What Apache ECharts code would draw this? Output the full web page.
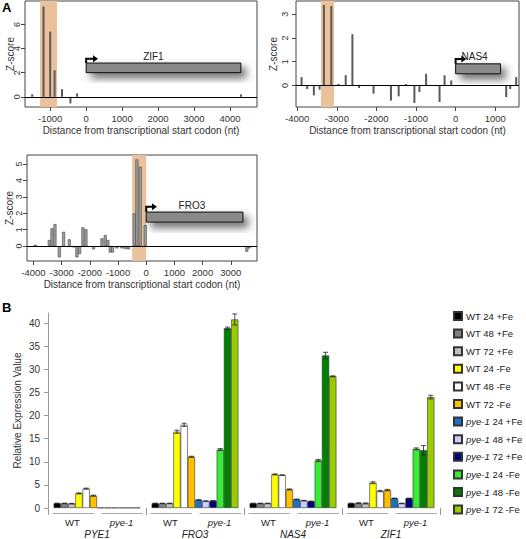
<!DOCTYPE html>
<html><head><meta charset="utf-8">
<script src="https://cdn.jsdelivr.net/npm/echarts@6/dist/echarts.min.js"></script>
<style>html,body{margin:0;padding:0;background:#fff}#c{width:526px;height:539px}</style>
</head><body><div id="c"></div>
<script>
// ---------- Panel A data ----------
const zifPos = [-1500, -1185, -1000, -877, -672, -437, -252, 4305];
const zifZ   = [0.2, 7.5, 5.4, 2.2, 0.63, -0.55, 0.28, 0.2];
const zifShade = [-1280, -810];
const zifGene = [0, 4300, 2.0, 2.8, 3.15, 330];   // start, end, boxLow, boxHigh, arrowLevel, arrowEnd
const zifLabel = ['ZIF1', 1870, 3.35];

const nasPos = [-3890, -3748, -3579, -3435, -3325, -3139, -2961, -2775, -2606, -2437, -2073, -1633, -1438, -1252, -1041, -914, -745, -406, -279, -110, 1277, 1378, 1530];
const nasZ   = [0.35, -0.15, -0.42, -0.18, 3.39, 3.35, 0.07, 0.43, 2.16, -0.11, -0.35, -0.64, -0.46, 0.06, -0.74, -0.28, 0.49, -0.70, 0.43, 0.21, -0.49, -0.15, 0.35];
const nasShade = [-3400, -3070];
const nasGene = [0, 1134, 0.49, 0.91, 1.11, 270];
const nasLabel = ['NAS4', 480, 1.22];

const froPos = [-3936, -3440, -3345, -3238, -3085, -2931, -2730, -2577, -2459, -2364, -2246, -2139, -1868, -1572, -1454, -1359, -1277, -1194, -1040, -863, -745, -627, -426, -331, -213, -35, 3570, 3664];
const froZ   = [0.08, 0.37, 1.08, 1.34, -0.69, 0.87, 0.41, -0.08, -0.69, -0.49, 1.14, 1.02, -0.2, 0.47, 0.67, 0.37, -0.39, -0.39, -0.14, -0.14, -0.18, -0.2, 1.99, 5.28, 4.84, 1.28, -0.35, -0.14];
const froShade = [-500, 0];
const froGene = [0, 3430, 1.46, 2.07, 2.4, 380];
const froLabel = ['FRO3', 1620, 2.5];

const zifXTicks = [-1000, 0, 1000, 2000, 3000, 4000];
const zifYTicks = [0, 2, 4, 6];
const nasXTicks = [-4000, -3000, -2000, -1000, 0, 1000];
const nasYTicks = [0, 1, 2, 3];
const froXTicks = [-4000, -3000, -2000, -1000, 0, 1000, 2000, 3000];
const froYTicks = [0, 1, 2, 3, 4, 5];

// ---------- Panel B data ----------
const genes = ['PYE1', 'FRO3', 'NAS4', 'ZIF1'];
const subgroups = ['WT', 'pye-1', 'WT', 'pye-1', 'WT', 'pye-1', 'WT', 'pye-1'];
const seriesNames = ['WT 24 +Fe', 'WT 48 +Fe', 'WT 72 +Fe', 'WT 24 -Fe', 'WT 48 -Fe', 'WT 72 -Fe',
  'pye-1 24 +Fe', 'pye-1 48 +Fe', 'pye-1 72 +Fe', 'pye-1 24 -Fe', 'pye-1 48 -Fe', 'pye-1 72 -Fe'];
const wt24p  = [1.0, 1.0, 1.0, 1.0];
const wt48p  = [1.0, 1.0, 1.0, 1.05];
const wt72p  = [0.95, 1.0, 1.0, 1.0];
const wt24m  = [3.17, 16.5, 7.27, 5.47];
const wt48m  = [4.2, 18.0, 7.12, 3.67];
const wt72m  = [2.67, 11.1, 4.03, 3.88];
const pye24p = [0.05, 1.75, 1.88, 2.1];
const pye48p = [0.05, 1.5, 1.6, 1.0];
const pye72p = [0.05, 1.55, 1.45, 2.1];
const pye24m = [0.05, 12.66, 10.29, 12.8];
const pye48m = [0.05, 38.9, 33.0, 12.5];
const pye72m = [0.05, 40.8, 28.5, 24.0];
const errWt24p  = [0.05, 0.05, 0.05, 0.05];
const errWt48p  = [0.05, 0.05, 0.05, 0.1];
const errWt72p  = [0.05, 0.05, 0.05, 0.1];
const errWt24m  = [0.1, 0.35, 0.1, 0.2];
const errWt48m  = [0.1, 0.35, 0.05, 0.15];
const errWt72m  = [0.1, 0.1, 0.1, 0.15];
const errPye24p = [0, 0.05, 0.05, 0.05];
const errPye48p = [0, 0.05, 0.05, 0.05];
const errPye72p = [0, 0.05, 0.05, 0.05];
const errPye24m = [0, 0.2, 0.2, 0.2];
const errPye48m = [0, 0.25, 0.7, 1.0];
const errPye72m = [0, 1.2, 0.1, 0.4];
const yTicksB = [0, 5, 10, 15, 20, 25, 30, 35, 40];

const barValues = [wt24p, wt48p, wt72p, wt24m, wt48m, wt72m, pye24p, pye48p, pye72p, pye24m, pye48m, pye72m];
const barErrors = [errWt24p, errWt48p, errWt72p, errWt24m, errWt48m, errWt72m, errPye24p, errPye48p, errPye72p, errPye24m, errPye48m, errPye72m];
const colors = ['#000000', '#808080', '#c0c0c0', '#ffff00', '#ffffff', '#ffc000',
  '#1f6fc5', '#ccccff', '#000080', '#33ee33', '#008000', '#99cc00'];

const FONT = 'Liberation Sans, Arial, Helvetica, sans-serif';
const chart = echarts.init(document.getElementById('c'), null, {renderer: 'svg', width: 526, height: 539});
const plain = v => String(v);

function aX(grid, min, max, ticks) {
  return {type: 'value', gridIndex: grid, min: min, max: max, position: 'bottom',
    axisLine: {show: false, onZero: false}, splitLine: {show: false},
    axisTick: {show: true, length: 4, customValues: ticks, lineStyle: {color: '#444'}},
    axisLabel: {customValues: ticks, fontSize: 9.5, color: '#333', margin: 6, fontFamily: FONT, formatter: plain},
    name: 'Distance from transcriptional start codon (nt)', nameLocation: 'middle', nameGap: 18, nameMoveOverlap: false,
    nameTextStyle: {fontSize: 10, color: '#333', fontFamily: FONT}};
}
function aY(grid, min, max, ticks, lm, ng) {
  return {type: 'value', gridIndex: grid, min: min, max: max, position: 'left',
    axisLine: {show: false, onZero: false}, splitLine: {show: false},
    axisTick: {show: true, length: 4, customValues: ticks, lineStyle: {color: '#444'}},
    axisLabel: {customValues: ticks, rotate: 90, fontSize: 9, margin: lm, color: '#333', fontFamily: FONT, formatter: plain},
    name: 'Z-score', nameLocation: 'middle', nameGap: ng, nameMoveOverlap: false,
    nameTextStyle: {fontSize: 10, color: '#333', fontFamily: FONT}};
}
function geneRender(label) {
  return function (params, api) {
    const s = api.value(0), e = api.value(1), lo = api.value(2), hi = api.value(3), lev = api.value(4), tip = api.value(5);
    const p1 = api.coord([s, hi]), p2 = api.coord([e, lo]);
    const pa = api.coord([s, lev]), pt = api.coord([tip, lev]);
    const pl = api.coord([label[1], label[2]]);
    return {type: 'group', children: [
      {type: 'rect', shape: {x: p1[0], y: p1[1], width: p2[0] - p1[0], height: p2[1] - p1[1]},
        style: {fill: '#8a8a8a', stroke: '#111', lineWidth: 1, shadowBlur: 9, shadowOffsetX: 5, shadowOffsetY: 5, shadowColor: 'rgba(0,0,0,0.6)'}},
      {type: 'polyline', shape: {points: [[p1[0], p1[1]], [pa[0], pa[1]], [pt[0] - 4, pt[1]]]},
        style: {stroke: '#000', lineWidth: 2, fill: null}},
      {type: 'polygon', shape: {points: [[pt[0], pt[1]], [pt[0] - 5, pt[1] - 3.5], [pt[0] - 5, pt[1] + 3.5]]},
        style: {fill: '#000'}},
      {type: 'text', style: {text: label[0], x: pl[0], y: pl[1], align: 'center', verticalAlign: 'middle',
        fontSize: 10, fill: '#222', fontFamily: FONT}}
    ]};
  };
}
function shadeSeries(idx, shade) {
  return {type: 'line', xAxisIndex: idx, yAxisIndex: idx, data: [], z: 1, silent: true,
    markArea: {silent: true, itemStyle: {color: '#ebc19c'}, data: [[{xAxis: shade[0]}, {xAxis: shade[1]}]]}};
}
function stemSeries(idx, pos, z, style, w) {
  return {type: 'bar', xAxisIndex: idx, yAxisIndex: idx, data: pos.map((x, i) => [x, z[i]]),
    barWidth: w, itemStyle: style, z: 3, silent: true,
    markLine: {silent: true, symbol: 'none', label: {show: false}, lineStyle: {color: '#000', width: 1, type: 'solid'}, data: [{yAxis: 0}]}};
}
function geneSeries(idx, gene, label) {
  return {type: 'custom', xAxisIndex: idx, yAxisIndex: idx, data: [gene], z: 5, silent: true, clip: false,
    renderItem: geneRender(label)};
}

const errData = [];
barErrors.forEach((arr, s) => arr.forEach((e, c) => { if (e > 0) errData.push([c, s, barValues[s][c], e]); }));

const option = {
  animation: false,
  textStyle: {fontFamily: FONT},
  grid: [
    {left: 25, top: 1, width: 232, height: 106, show: true, borderColor: '#444', borderWidth: 1},
    {left: 296, top: 1, width: 223, height: 106, show: true, borderColor: '#444', borderWidth: 1},
    {left: 27, top: 155, width: 230, height: 106, show: true, borderColor: '#444', borderWidth: 1},
    {left: 48, top: 313, width: 392, height: 196}
  ],
  xAxis: [
    aX(0, -1700, 4750, zifXTicks),
    aX(1, -4030, 1600, nasXTicks),
    aX(2, -4230, 3930, froXTicks),
    {type: 'category', gridIndex: 3, data: genes, position: 'bottom',
      axisLine: {show: false}, axisTick: {show: true, length: 7, inside: false, lineStyle: {color: '#999'}},
      axisLabel: {margin: 21, fontSize: 10, fontStyle: 'italic', color: '#222', fontFamily: FONT}},
    {type: 'category', gridIndex: 3, data: subgroups, position: 'bottom',
      axisLine: {show: false}, axisTick: {show: false},
      axisLabel: {margin: 9, fontSize: 9.5, color: '#222', fontFamily: FONT,
        formatter: v => v === 'pye-1' ? '{i|pye-1}' : v,
        rich: {i: {fontStyle: 'italic', fontSize: 9.5, color: '#222', fontFamily: FONT}}}}
  ],
  yAxis: [
    aY(0, -0.85, 7.95, zifYTicks, 4, 10),
    aY(1, -0.91, 3.56, nasYTicks, 7, 18),
    aY(2, -0.91, 5.55, froYTicks, 4, 13),
    {type: 'value', gridIndex: 3, min: 0, max: 42.2,
      axisLine: {show: true, lineStyle: {color: '#999'}}, splitLine: {show: false},
      axisTick: {show: true, length: 4, customValues: yTicksB, lineStyle: {color: '#999'}},
      axisLabel: {customValues: yTicksB, fontSize: 10, color: '#333', margin: 8, fontFamily: FONT},
      name: 'Relative Expression Value', nameLocation: 'middle', nameGap: 26, nameMoveOverlap: false,
      nameTextStyle: {fontSize: 10, color: '#333', fontFamily: FONT}}
  ],
  legend: {
    data: seriesNames, orient: 'vertical', left: 453, top: 311, padding: 0,
    itemWidth: 8, itemHeight: 8, itemGap: 7.6,
    icon: 'rect', selectedMode: false,
    textStyle: {fontSize: 9.5, color: '#222', fontFamily: FONT, padding: [0, 0, 0, -1],
      rich: {i: {fontStyle: 'italic', fontSize: 9.5, color: '#222', fontFamily: FONT}}},
    formatter: n => n.indexOf('pye-1') === 0 ? '{i|pye-1}' + n.slice(5) : n
  },
  graphic: [
    {type: 'text', left: 2, top: 1, style: {text: 'A', fontSize: 13, fontWeight: 'bold', fill: '#000', fontFamily: FONT}},
    {type: 'text', left: 2, top: 301, style: {text: 'B', fontSize: 13, fontWeight: 'bold', fill: '#000', fontFamily: FONT}}
  ],
  series: [
    shadeSeries(0, zifShade), shadeSeries(1, nasShade), shadeSeries(2, froShade),
    stemSeries(0, zifPos, zifZ, {color: '#5a5a5a'}, 2),
    stemSeries(1, nasPos, nasZ, {color: '#5a5a5a'}, 2),
    stemSeries(2, froPos, froZ, {color: '#a0a0a0', borderColor: '#444', borderWidth: 0.6}, 3),
    geneSeries(0, zifGene, zifLabel), geneSeries(1, nasGene, nasLabel), geneSeries(2, froGene, froLabel),
    ...seriesNames.map((n, i) => ({
      type: 'bar', name: n, xAxisIndex: 3, yAxisIndex: 3, data: barValues[i],
      barGap: '0%', barCategoryGap: '11.5%', silent: true,
      itemStyle: {color: colors[i], borderColor: '#333', borderWidth: 0.6}
    })),
    {type: 'custom', xAxisIndex: 3, yAxisIndex: 3, data: errData, z: 10, silent: true, clip: false,
      renderItem: function (params, api) {
        const band = api.size([1, 0])[0];
        const bw = band * (1 - 0.115) / 12;
        const c = api.value(0), s = api.value(1), v = api.value(2), e = api.value(3);
        const x = api.coord([c, 0])[0] + (s - 5.5) * bw;
        const yt = api.coord([c, v + e])[1], yb = api.coord([c, v - e])[1];
        const st = {stroke: '#222', lineWidth: 0.8};
        return {type: 'group', children: [
          {type: 'line', shape: {x1: x, y1: yt, x2: x, y2: yb}, style: st},
          {type: 'line', shape: {x1: x - 2.5, y1: yt, x2: x + 2.5, y2: yt}, style: st},
          {type: 'line', shape: {x1: x - 2.5, y1: yb, x2: x + 2.5, y2: yb}, style: st}
        ]};
      }},
    {type: 'custom', xAxisIndex: 4, yAxisIndex: 3, data: subgroups.map((g, i) => [i, 0]), silent: true, clip: false,
      renderItem: function (params, api) {
        const p = api.coord([api.value(0), 0]);
        const w = api.size([1, 0])[0];
        return {type: 'line', shape: {x1: p[0] - w / 2 + 4.5, y1: p[1] + 5.5, x2: p[0] + w / 2 - 3, y2: p[1] + 5.5},
          style: {stroke: '#aaa', lineWidth: 1}};
      }}
  ]
};
chart.setOption(option);
</script></body></html>
